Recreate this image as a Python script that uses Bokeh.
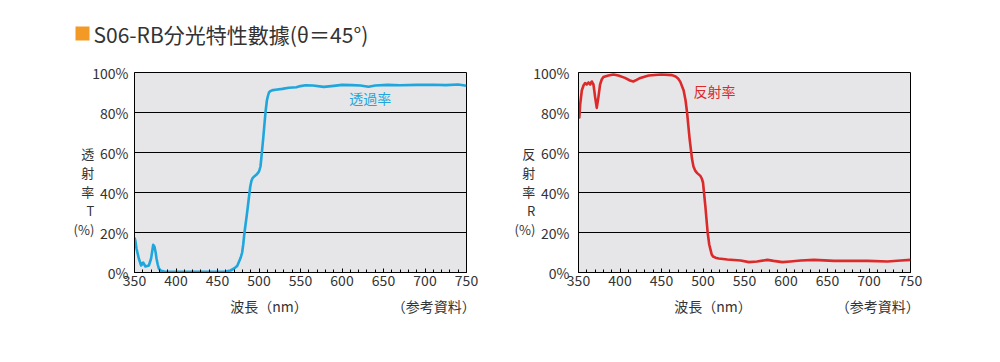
from bokeh.plotting import figure
from bokeh.models import FixedTicker, Label, Range1d
from bokeh.layouts import column, row
from bokeh.embed import file_html
from bokeh.resources import INLINE

FONT = "Noto Sans CJK JP"
TXT = "#333333"

title_text = "S06-RB分光特性數據(θ＝45°)"

# Transmittance curve (wavelength nm, %)
wl_t = [350, 351, 352.4, 355.2, 358, 360.4, 363.2, 367.3, 370, 371.5, 372.5, 374, 375.5, 376.5, 378,
        379.3, 382, 386, 400, 430, 455, 460, 465.7, 470, 473.7, 476, 478, 479.7, 481, 482.5, 485.7,
        488, 489.5, 491, 492.5, 495, 497.8, 500, 501.8, 503, 505, 507.8, 509.5, 510.6, 512, 513.9,
        517, 520, 528, 536, 545, 550, 556, 565, 578, 590, 600, 612, 622, 632, 640, 655, 670, 690,
        710, 725, 740, 750]
trans = [17.5, 16, 12, 7, 3.5, 5, 3, 3.5, 7, 11, 13.8, 13, 10, 7, 4,
         2, 0.8, 0.5, 0.4, 0.3, 0.3, 0.5, 1, 2, 3.3, 5.5, 7.5, 10, 14, 20, 30,
         38, 43, 46, 47.3, 48.3, 49.3, 50.5, 53, 58, 66.7, 80, 86, 88, 90, 90.8,
         91.2, 91.4, 91.8, 92.4, 92.6, 93.2, 93.6, 93.5, 92.8, 93.3, 93.8, 93.7, 93.5, 92.9, 93.5,
         93.8, 93.6, 93.8, 93.9, 93.7, 94, 93.4]

# Reflectance curve (wavelength nm, %)
wl_r = [350, 351, 352, 354, 356, 358, 360, 362, 364, 366, 368, 369, 370, 372, 374, 376, 378, 380,
        386, 392, 398, 406, 412, 416, 420, 424.5, 434.5, 450, 462.7, 467, 470, 472.7, 476.7, 479,
        480.8, 483.9, 486.8, 488.5, 490.8, 493, 496.8, 498.5, 500, 502.8, 505.6, 507.5, 508.9,
        510.5, 512.1, 515, 518.9, 529.3, 545.4, 555.4, 565, 577.6, 585, 595.7, 605, 617.8, 633.8,
        657.9, 698.2, 722.3, 738.4, 750]
refl = [78.5, 77.5, 84, 91, 93.5, 94.7, 94, 95, 94, 95.5, 94, 91, 87.7, 82.3, 87.7, 94, 96.5, 97.7,
        98.5, 99, 98.5, 97.3, 96, 95.5, 96.3, 97.3, 98.5, 99, 98.7, 98, 97, 95.3, 91, 86,
        80, 66.7, 56.7, 53, 50.8, 49.7, 48.3, 47, 45, 33.3, 20, 14, 11.7,
        9, 8, 7.4, 7, 6.5, 6, 5.2, 5.5, 6.3, 5.8, 5.2, 5.5, 6, 6.3,
        5.8, 5.8, 5.5, 6, 6.3]

x_ticks = [350, 400, 450, 500, 550, 600, 650, 700, 750]
x_minor = list(range(350, 751, 10))
y_ticks = [0, 20, 40, 60, 80, 100]
y_tick_labels = ["0%", "20%", "40%", "60%", "80%", "100%"]

t_ylabel = ["透", "射", "率", "T", "(%)"]
r_ylabel = ["反", "射", "率", "R", "(%)"]
x_title = "波長（nm）"
note = "（参考資料）"

IDSP = "\u3000"
ENSP = "\u2002"
x_axis_text = IDSP * 7 + ENSP + x_title + IDSP * 7 + note


def panel(wl, vals, color, curve_name, name_x, name_y, ylabel, bl, br, standoff):
    p = figure(frame_width=332, frame_height=200, min_border_left=bl, min_border_right=br,
               min_border_top=14, min_border_bottom=82,
               x_range=Range1d(350, 750), y_range=Range1d(0, 100),
               output_backend="svg", toolbar_location=None,
               background_fill_color="#e6e6e8", border_fill_color="white",
               outline_line_color="black", outline_line_width=1)
    xa = p.xaxis[0]
    xa.ticker = FixedTicker(ticks=x_ticks, minor_ticks=x_minor)
    xa.major_tick_in = 4
    xa.major_tick_out = 0
    xa.minor_tick_in = 3
    xa.minor_tick_out = 0
    xa.major_tick_line_color = "black"
    xa.minor_tick_line_color = "black"
    xa.axis_line_color = "black"
    xa.major_label_standoff = 2
    xa.major_label_text_font = FONT
    xa.major_label_text_font_size = "14px"
    xa.major_label_text_color = TXT
    xa.axis_label = x_axis_text
    xa.axis_label_text_font = FONT
    xa.axis_label_text_font_size = "14px"
    xa.axis_label_text_font_style = "normal"
    xa.axis_label_text_color = TXT
    xa.axis_label_standoff = 7

    ya = p.yaxis[0]
    ya.ticker = FixedTicker(ticks=y_ticks)
    ya.major_label_overrides = {t: s for t, s in zip(y_ticks, y_tick_labels)}
    ya.major_tick_in = 0
    ya.major_tick_out = 0
    ya.minor_tick_line_color = None
    ya.axis_line_color = "black"
    ya.major_label_standoff = standoff
    ya.major_label_text_font = FONT
    ya.major_label_text_font_size = "14px"
    ya.major_label_text_color = TXT
    ya.axis_label = "\n".join([" ", " "] + ylabel)
    ya.axis_label_orientation = "horizontal"
    ya.axis_label_text_font = FONT
    ya.axis_label_text_font_size = "13px"
    ya.axis_label_text_font_style = "normal"
    ya.axis_label_text_color = TXT
    ya.axis_label_text_line_height = 1.0
    ya.axis_label_standoff = -5

    p.xgrid.visible = False
    p.ygrid.ticker = FixedTicker(ticks=y_ticks)
    p.ygrid.grid_line_color = "black"
    p.ygrid.grid_line_width = 1

    p.line(wl, vals, line_color=color, line_width=2.6, line_join="round")

    p.add_layout(Label(x=name_x, y=name_y, text=curve_name, text_color=color,
                       text_font=FONT, text_font_size="14px",
                       text_align="center", text_baseline="middle"))
    return p


left = panel(wl_t, trans, "#1ea6dd", "透過率", 634, 87.5, t_ylabel, 134, 34, 6)
right = panel(wl_r, refl, "#dc2a2a", "反射率", 514, 91, r_ylabel, 78, 82, 9)

head = figure(width=992, height=58, x_range=Range1d(0, 992), y_range=Range1d(58, 0),
              output_backend="svg", toolbar_location=None, min_border=0,
              outline_line_color=None, border_fill_color="white", background_fill_color="white")
head.axis.visible = False
head.grid.visible = False
head.rect(x=[82], y=[33], width=14, height=14, fill_color="#f39a26", line_color=None)
head.add_layout(Label(x=93, y=33, text=title_text, text_color=TXT, text_font=FONT,
                      text_font_size="21px", text_baseline="middle"))

layout = column(head, row(left, right))
open("out.html", "w").write(file_html(layout, INLINE))
